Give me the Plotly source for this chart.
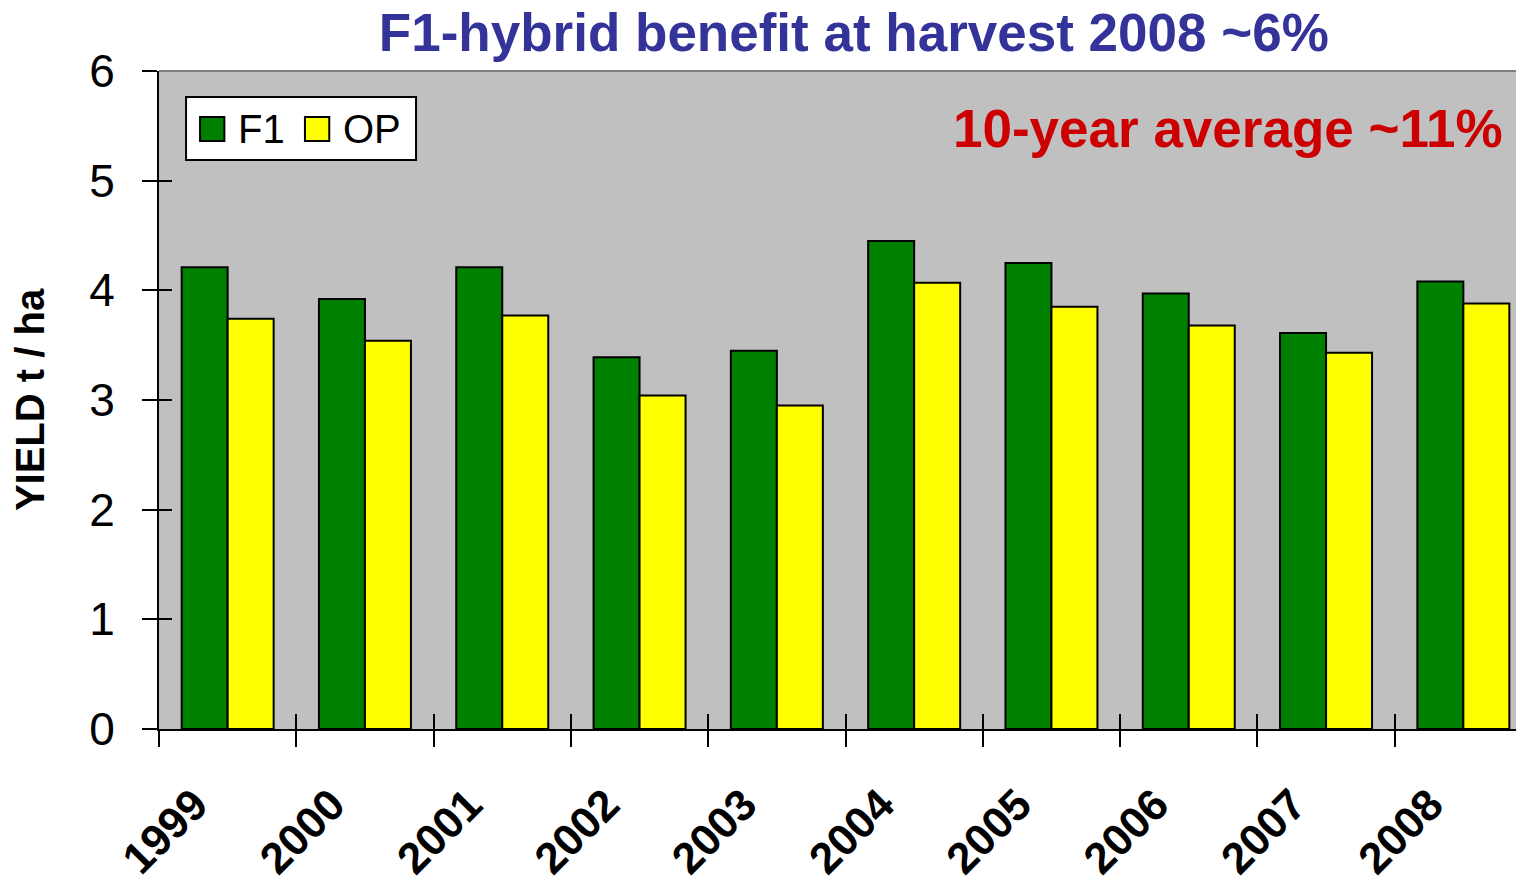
import plotly.graph_objects as go

years = ["1999", "2000", "2001", "2002", "2003", "2004", "2005", "2006", "2007", "2008"]
f1 = [4.21, 3.92, 4.21, 3.39, 3.45, 4.45, 4.25, 3.97, 3.61, 4.08]
op = [3.74, 3.54, 3.77, 3.04, 2.95, 4.07, 3.85, 3.68, 3.43, 3.88]
y_ticks = [0, 1, 2, 3, 4, 5, 6]
series_names = ["F1", "OP"]
series_colors = ["#008000", "#FFFF00"]

FONT = "Arial, Liberation Sans, sans-serif"

fig = go.Figure()
for name, vals, col in zip(series_names, [f1, op], series_colors):
    fig.add_trace(go.Bar(x=years, y=vals, name=name, showlegend=False,
                         marker=dict(color=col, line=dict(color="black", width=2))))
# empty trace so the overlay axes (crossing tick marks) are drawn
fig.add_trace(go.Scatter(x=[], y=[], xaxis="x2", yaxis="y2", showlegend=False, hoverinfo="skip"))

boundaries = [i - 0.5 for i in range(len(years) + 1)]
xr = [-0.5, 9.5]

shapes = [dict(type="line", xref="x domain", yref="y domain", x0=0, x1=1, y0=1, y1=1,
               line=dict(color="#808080", width=2))]
annotations = []

# hand-built legend (boxed, large square swatches)
shapes.append(dict(type="rect", xref="x domain", yref="y domain", x0=0.0197, x1=0.1872,
                   y0=0.8647, y1=0.9605, fillcolor="white", line=dict(color="black", width=2)))
sw_x = [0.0299, 0.1063]
tx_x = [0.0560, 0.1325]
for name, col, sx, tx in zip(series_names, series_colors, sw_x, tx_x):
    shapes.append(dict(type="rect", xref="x domain", yref="y domain", x0=sx, x1=sx + 0.0177,
                       y0=0.8936, y1=0.9301, fillcolor=col, line=dict(color="black", width=2)))
    annotations.append(dict(text=name, xref="x domain", yref="y domain", x=tx, y=0.9119,
                            xanchor="left", yanchor="middle", showarrow=False,
                            font=dict(size=40, color="black", family=FONT)))

annotations.append(dict(text="<b>10-year average ~11%</b>", xref="x domain", yref="y domain",
                        x=0.980, y=0.913, xanchor="right", yanchor="middle", showarrow=False,
                        font=dict(size=53, color="#CC0000", family=FONT)))

fig.update_layout(
    width=1524, height=886,
    margin=dict(l=151, r=0, t=63, b=165),
    paper_bgcolor="white",
    plot_bgcolor="#C0C0C0",
    barmode="group",
    bargap=0.33,
    bargroupgap=0,
    font=dict(family=FONT, color="black"),
    title=dict(text="<b>F1-hybrid benefit at harvest 2008 ~6%</b>", x=0.555, xanchor="center",
               y=0.972, yanchor="middle", font=dict(size=53, color="#333399", family=FONT)),
    showlegend=False,
    xaxis=dict(type="category", range=xr, showline=True, linecolor="black", linewidth=2,
               ticks="outside", ticklen=16, tickwidth=2, tickcolor="black", tickson="boundaries",
               tickangle=-45, tickfont=dict(size=44, family=FONT, weight="bold"),
               ticklabelstandoff=30, ticklabelshift=-33,
               showgrid=False, zeroline=False),
    xaxis2=dict(range=xr, overlaying="x", anchor="y", tickmode="array", tickvals=boundaries,
                ticks="inside", ticklen=15, tickwidth=2, tickcolor="black", showticklabels=False,
                showgrid=False, zeroline=False, showline=False),
    yaxis=dict(range=[0, 6], tickmode="array", tickvals=y_ticks, showline=True, linecolor="black",
               linewidth=2, ticks="outside", ticklen=15, tickwidth=2, tickcolor="black",
               tickfont=dict(size=46, family=FONT), ticklabelstandoff=18,
               showgrid=False, zeroline=False,
               title=dict(text="<b>YIELD t / ha</b>", font=dict(size=40, family=FONT), standoff=36)),
    yaxis2=dict(range=[0, 6], overlaying="y", anchor="x", tickmode="array", tickvals=y_ticks,
                ticks="inside", ticklen=13, tickwidth=2, tickcolor="black", showticklabels=False,
                showgrid=False, zeroline=False, showline=False),
    shapes=shapes,
    annotations=annotations,
)

fig.write_html("out.html")
